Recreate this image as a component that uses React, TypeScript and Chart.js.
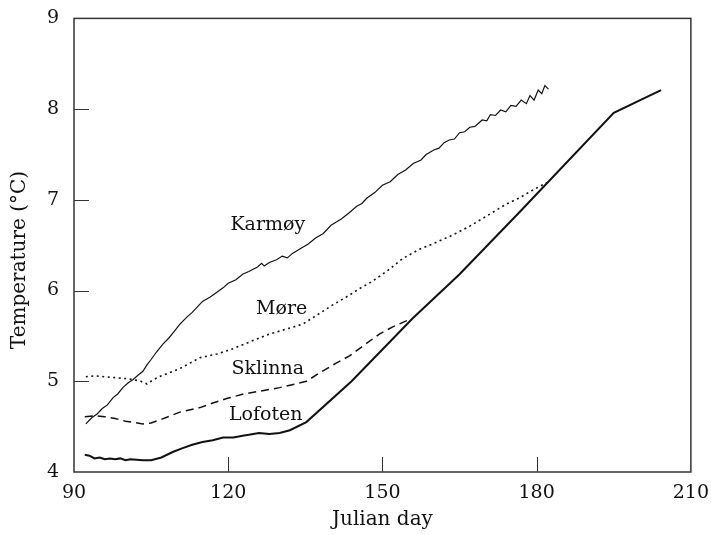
import React, { useEffect, useRef } from "react";
import { Chart, registerables } from "chart.js";

Chart.register(...registerables);

// ---- Data ----
const karmoyDays = [92.3, 93.5, 94.5, 95.5, 96.5, 97.6, 98.5, 99.5, 100.5, 101.5, 102.5, 103.4, 104.2, 105, 106, 107.3, 108.5, 109.5, 110.6, 112, 113, 114, 115, 116.5, 118, 119, 120, 121.5, 122.8, 124, 125.7, 126.5, 127, 128, 129.4, 130.5, 131.5, 132.5, 134, 135.5, 137, 138.5, 140, 141.2, 142, 143.6, 145, 146, 147, 148.5, 150, 151.5, 153, 154.5, 156, 157.5, 158.5, 160, 161, 162, 163, 164, 165, 166, 167, 168, 169.4, 170.3, 171, 172, 173, 174, 175, 176, 177, 178, 178.7, 179.5, 180.3, 181, 181.6, 182.3];
const karmoyTemps = [4.53, 4.6, 4.64, 4.7, 4.74, 4.82, 4.86, 4.93, 4.98, 5.02, 5.07, 5.11, 5.18, 5.24, 5.32, 5.41, 5.48, 5.55, 5.63, 5.71, 5.76, 5.82, 5.88, 5.93, 5.99, 6.03, 6.08, 6.12, 6.18, 6.21, 6.26, 6.3, 6.27, 6.31, 6.34, 6.38, 6.36, 6.41, 6.46, 6.51, 6.58, 6.63, 6.72, 6.76, 6.79, 6.86, 6.93, 6.96, 7.02, 7.08, 7.16, 7.2, 7.28, 7.33, 7.4, 7.44, 7.5, 7.55, 7.57, 7.63, 7.66, 7.67, 7.74, 7.75, 7.8, 7.81, 7.88, 7.87, 7.94, 7.93, 7.99, 7.97, 8.04, 8.03, 8.1, 8.06, 8.15, 8.1, 8.21, 8.17, 8.26, 8.22];

const moreDays = [92.3, 94, 96, 98, 100, 101.5, 103, 104.2, 105.5, 107, 110.6, 114.5, 117.8, 121, 124, 128, 131, 134.5, 137, 140, 143.6, 145.5, 148, 151, 153.9, 157, 160, 163.6, 167, 171.4, 174, 176.6, 179, 182];
const moreTemps = [5.05, 5.06, 5.05, 5.04, 5.03, 5.02, 5.0, 4.97, 5.02, 5.06, 5.14, 5.26, 5.3, 5.36, 5.43, 5.52, 5.57, 5.63, 5.72, 5.83, 5.95, 6.02, 6.1, 6.22, 6.35, 6.45, 6.52, 6.61, 6.71, 6.86, 6.95, 7.02, 7.1, 7.19];

const sklinnaDays = [92.1, 94, 96, 98, 100, 103.4, 105, 107, 110.6, 114.5, 117, 119.7, 123, 126, 130, 133, 135.2, 138, 141, 143.6, 146, 149.4, 152, 155.2];
const sklinnaTemps = [4.61, 4.62, 4.61, 4.59, 4.56, 4.53, 4.54, 4.58, 4.66, 4.71, 4.76, 4.81, 4.86, 4.89, 4.93, 4.97, 5.0, 5.1, 5.2, 5.28, 5.38, 5.52, 5.6, 5.68];

const lofotenDays = [92.1, 93, 94, 95, 96, 97, 98, 99, 100, 101, 103.4, 105, 107, 109.2, 111, 113, 115, 117, 119, 121, 122.8, 124, 126, 128, 130, 132, 135.2, 144, 155.8, 165, 176.6, 195, 204.2];
const lofotenTemps = [4.19, 4.18, 4.15, 4.16, 4.14, 4.15, 4.14, 4.15, 4.13, 4.14, 4.13, 4.13, 4.16, 4.22, 4.26, 4.3, 4.33, 4.35, 4.38, 4.38, 4.4, 4.41, 4.43, 4.42, 4.43, 4.46, 4.55, 5.0, 5.69, 6.18, 6.86, 7.96, 8.21];

const xTicks = [90, 120, 150, 180, 210];
const yTicks = [4, 5, 6, 7, 8, 9];

// Series label anchors (day, temperature)
const seriesNames = ["Karmøy", "Møre", "Sklinna", "Lofoten"];
const labelDays = [127.7, 130.4, 127.7, 127.3];
const labelTemps = [6.72, 5.8, 5.13, 4.63];

const xTitle = "Julian day";
const yTitle = "Temperature (°C)";

const FONT = "'DejaVu Serif', serif";
const INK = "#111";

const toPoints = (xs: number[], ys: number[]) => xs.map((x, i) => ({ x, y: ys[i] }));

const framePlugin = {
  id: "frameAndLabels",
  afterDraw(chart: any) {
    const ctx = chart.ctx;
    const { left, right, top, bottom } = chart.chartArea;
    const xs = chart.scales.x;
    const ys = chart.scales.y;
    ctx.save();
    ctx.strokeStyle = "#333";
    ctx.lineWidth = 1.5;
    ctx.strokeRect(left, top, right - left, bottom - top);
    ctx.lineWidth = 1;
    ctx.beginPath();
    xTicks.slice(1, -1).forEach((v) => {
      const px = Math.round(xs.getPixelForValue(v)) + 0.5;
      ctx.moveTo(px, bottom);
      ctx.lineTo(px, bottom - 15);
    });
    yTicks.slice(1, -1).forEach((v) => {
      const py = Math.round(ys.getPixelForValue(v)) + 0.5;
      ctx.moveTo(left, py);
      ctx.lineTo(left + 15, py);
    });
    ctx.stroke();

    ctx.fillStyle = INK;
    ctx.font = `19px ${FONT}`;
    ctx.textAlign = "center";
    ctx.textBaseline = "middle";
    seriesNames.forEach((name, i) => {
      ctx.fillText(name, xs.getPixelForValue(labelDays[i]), ys.getPixelForValue(labelTemps[i]));
    });

    ctx.font = `20px ${FONT}`;
    ctx.fillText(xTitle, (left + right) / 2, 520);
    ctx.translate(20, 260);
    ctx.rotate(-Math.PI / 2);
    ctx.fillText(yTitle, 0, 0);
    ctx.restore();
  },
};

export default function App() {
  const ref = useRef<HTMLCanvasElement | null>(null);

  useEffect(() => {
    if (!ref.current) return;
    const common = { pointRadius: 0, borderColor: INK, fill: false, tension: 0 };
    const chart = new Chart(ref.current, {
      type: "line",
      data: {
        datasets: [
          { ...common, label: "Karmøy", data: toPoints(karmoyDays, karmoyTemps), borderWidth: 1.2 },
          { ...common, label: "Møre", data: toPoints(moreDays, moreTemps), borderWidth: 1.6, borderDash: [2, 3.5] },
          { ...common, label: "Sklinna", data: toPoints(sklinnaDays, sklinnaTemps), borderWidth: 1.5, borderDash: [8, 5] },
          { ...common, label: "Lofoten", data: toPoints(lofotenDays, lofotenTemps), borderWidth: 2 },
        ],
      },
      options: {
        responsive: false,
        animation: false,
        devicePixelRatio: 1,
        layout: { padding: { top: 14, right: 19, left: 0, bottom: 0 } },
        plugins: { legend: { display: false }, tooltip: { enabled: false } },
        scales: {
          x: {
            type: "linear",
            min: 90,
            max: 210,
            afterBuildTicks: (s: any) => { s.ticks = xTicks.map((v) => ({ value: v })); },
            afterFit: (s: any) => { s.height = 63; },
            grid: { display: false },
            border: { display: false },
            ticks: { color: INK, padding: 2, font: { family: FONT, size: 19 }, maxRotation: 0 },
          },
          y: {
            type: "linear",
            min: 4,
            max: 9,
            afterBuildTicks: (s: any) => { s.ticks = yTicks.map((v) => ({ value: v })); },
            afterFit: (s: any) => { s.width = 74; },
            grid: { display: false },
            border: { display: false },
            ticks: { color: INK, padding: 7, font: { family: FONT, size: 19 } },
          },
        },
      },
      plugins: [framePlugin],
    } as any);
    return () => chart.destroy();
  }, []);

  return (
    <div style={{ position: "fixed", left: 0, top: 0, width: 711, height: 535, background: "#fff" }}>
      <canvas ref={ref} width={711} height={535} />
    </div>
  );
}
